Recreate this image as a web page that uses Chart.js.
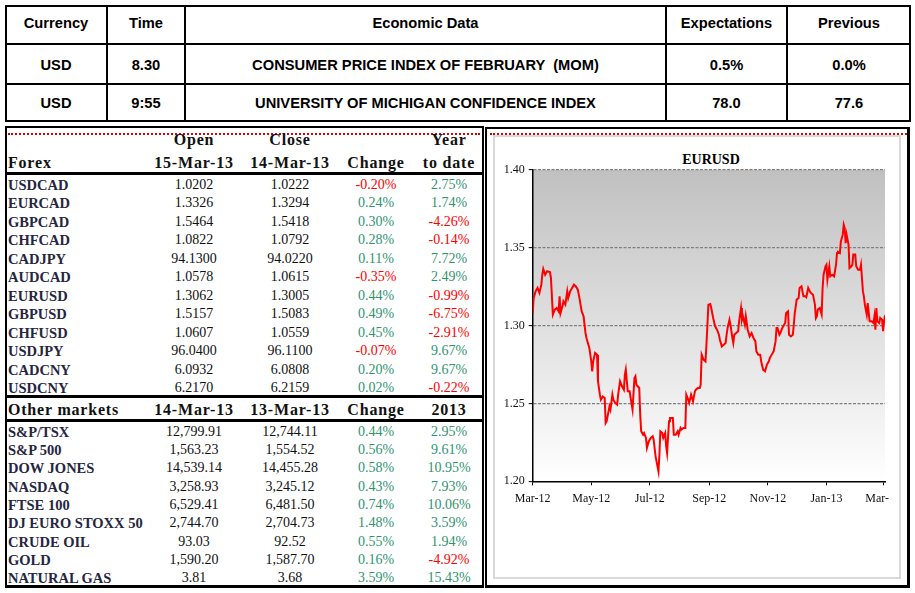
<!DOCTYPE html>
<html><head><meta charset="utf-8">
<script src="https://cdn.jsdelivr.net/npm/chart.js@4.4.1/dist/chart.umd.min.js"></script>
<style>
html,body{margin:0;padding:0;background:#fff;width:915px;height:593px;overflow:hidden;}
#root{position:absolute;left:0;top:0;width:915px;height:593px;}
.abs{position:absolute;white-space:pre;}
.tp{font-family:"Liberation Sans",Arial,sans-serif;font-weight:bold;font-size:14.7px;color:#000;}
.hd{font-family:"Liberation Serif","Times New Roman",serif;font-weight:bold;font-size:16px;letter-spacing:0.8px;color:#111;}
.nm{font-family:"Liberation Serif","Times New Roman",serif;font-weight:bold;font-size:14.5px;color:#262640;}
.nu{font-family:"Liberation Serif","Times New Roman",serif;font-size:14px;color:#111;}
.ttl{font-family:"Liberation Serif","Times New Roman",serif;font-weight:bold;font-size:14px;color:#000;}
</style></head><body>
<div id="root"></div>
<canvas id="c" width="393" height="438" style="position:absolute;left:496px;top:138px;"></canvas>
<script>
// ---------- Economic calendar ----------
const topHeaders = ['Currency','Time','Economic Data','Expectations','Previous'];
const evCurrency = ['USD','USD'];
const evTime = ['8.30','9:55'];
const evData = ['CONSUMER PRICE INDEX OF FEBRUARY  (MOM)','UNIVERSITY OF MICHIGAN CONFIDENCE INDEX'];
const evExpect = ['0.5%','78.0'];
const evPrev = ['0.0%','77.6'];

// ---------- Forex table ----------
const fxHead1 = ['','Open','Close','','Year'];
const fxHead2 = ['Forex','15-Mar-13','14-Mar-13','Change','to date'];
const fxNames = ['USDCAD','EURCAD','GBPCAD','CHFCAD','CADJPY','AUDCAD','EURUSD','GBPUSD','CHFUSD','USDJPY','CADCNY','USDCNY'];
const fxOpen = ['1.0202','1.3326','1.5464','1.0822','94.1300','1.0578','1.3062','1.5157','1.0607','96.0400','6.0932','6.2170'];
const fxClose = ['1.0222','1.3294','1.5418','1.0792','94.0220','1.0615','1.3005','1.5083','1.0559','96.1100','6.0808','6.2159'];
const fxChange = ['-0.20%','0.24%','0.30%','0.28%','0.11%','-0.35%','0.44%','0.49%','0.45%','-0.07%','0.20%','0.02%'];
const fxYtd = ['2.75%','1.74%','-4.26%','-0.14%','7.72%','2.49%','-0.99%','-6.75%','-2.91%','9.67%','9.67%','-0.22%'];

// ---------- Other markets ----------
const omHead = ['Other markets','14-Mar-13','13-Mar-13','Change','2013'];
const omNames = ['S&P/TSX','S&P 500','DOW JONES','NASDAQ','FTSE 100','DJ EURO STOXX 50','CRUDE OIL','GOLD','NATURAL GAS'];
const omLast = ['12,799.91','1,563.23','14,539.14','3,258.93','6,529.41','2,744.70','93.03','1,590.20','3.81'];
const omPrev = ['12,744.11','1,554.52','14,455.28','3,245.12','6,481.50','2,704.73','92.52','1,587.70','3.68'];
const omChange = ['0.44%','0.56%','0.58%','0.43%','0.74%','1.48%','0.55%','0.16%','3.59%'];
const omYtd = ['2.95%','9.61%','10.95%','7.93%','10.06%','3.59%','1.94%','-4.92%','15.43%'];

// ---------- EURUSD chart (days since 1-Mar-2012, rate) ----------
const chartTitle = 'EURUSD';
const dayOffsets = [
 0,1,3,5,7,9,10,11,13,15,
 18,19,21,23,25,27,28,29,31,32,
 34,36,37,39,41,43,45,47,49,51,
 53,55,56,59,61,62,63,65,67,68,
 70,71,73,75,76,77,79,80,81,83,
 84,86,88,89,91,93,95,96,97,99,
 101,102,104,106,107,108,111,112,113,115,
 116,118,119,121,123,125,126,128,129,131,
 132,133,135,136,138,139,140,142,143,146,
 147,149,151,152,154,155,157,159,160,162,
 163,165,166,167,169,170,172,174,175,176,
 178,180,181,182,183,185,186,188,190,192,
 194,195,197,199,201,202,203,205,206,208,
 209,210,212,214,215,217,218,219,221,222,
 224,225,226,228,230,232,233,235,237,238,
 240,242,243,244,246,247,249,251,253,254,
 255,257,258,260,263,264,266,267,269,271,
 272,273,275,277,278,280,282,284,285,287,
 289,290,292,294,295,296,297,299,301,302,
 303,305,306,307,309,310,312,314,316,317,
 318,320,321,323,324,325,326,327,329,330,
 332,333,334,336,337,339,341,342,344,345,
 346,348,349,351,353,355,356,357,358,359,
 361,362,364,365,366,367];
const eurusd = [
 1.3080,1.3176,1.3219,1.3241,1.3209,1.3262,1.3326,1.3363,1.3326,1.3348,
 1.3343,1.3305,1.3070,1.3102,1.3112,1.3091,1.3187,1.3080,1.3123,1.3155,
 1.3134,1.3219,1.3176,1.3219,1.3241,1.3262,1.3251,1.3230,1.3166,1.3091,
 1.3059,1.2952,1.2920,1.2856,1.2770,1.2706,1.2770,1.2824,1.2813,1.2642,
 1.2556,1.2524,1.2545,1.2535,1.2374,1.2385,1.2449,1.2481,1.2460,1.2556,
 1.2524,1.2503,1.2492,1.2556,1.2642,1.2610,1.2588,1.2684,1.2717,1.2578,
 1.2578,1.2535,1.2460,1.2663,1.2674,1.2620,1.2599,1.2428,1.2321,1.2299,
 1.2310,1.2278,1.2214,1.2257,1.2278,1.2289,1.2267,1.2160,1.2128,1.2064,
 1.2171,1.2321,1.2310,1.2278,1.2310,1.2225,1.2182,1.2385,1.2406,1.2406,
 1.2299,1.2299,1.2321,1.2299,1.2342,1.2332,1.2342,1.2342,1.2556,1.2524,
 1.2503,1.2556,1.2535,1.2513,1.2578,1.2588,1.2599,1.2599,1.2620,1.2813,
 1.2781,1.2770,1.2877,1.3005,1.3134,1.3138,1.3112,1.3048,1.2995,1.2973,
 1.2941,1.2909,1.2866,1.2877,1.2888,1.2941,1.2984,1.3037,1.3005,1.2920,
 1.2888,1.2941,1.2952,1.2963,1.3027,1.3112,1.3037,1.3059,1.3005,1.3059,
 1.2973,1.2952,1.2930,1.2952,1.2920,1.2898,1.2834,1.2813,1.2813,1.2770,
 1.2717,1.2706,1.2706,1.2749,1.2770,1.2791,1.2813,1.2834,1.2898,1.2984,
 1.2984,1.2941,1.2952,1.2984,1.3016,1.3080,1.3091,1.2941,1.2930,1.2941,
 1.3005,1.3080,1.3166,1.3176,1.3241,1.3251,1.3187,1.3187,1.3181,1.3241,
 1.3215,1.3209,1.3198,1.3134,1.3048,1.3059,1.3102,1.3112,1.3070,1.3241,
 1.3326,1.3380,1.3390,1.3294,1.3380,1.3316,1.3326,1.3316,1.3390,1.3465,
 1.3472,1.3465,1.3540,1.3583,1.3647,1.3626,1.3529,1.3583,1.3519,1.3369,
 1.3380,1.3390,1.3455,1.3455,1.3380,1.3358,1.3358,1.3390,1.3219,1.3187,
 1.3134,1.3070,1.3144,1.3027,1.3027,1.3016,1.3059,1.2973,1.3112,1.3027,
 1.3016,1.3048,1.3037,1.2963,1.3027,1.3065];
const xTickDays = [0,61,122,184,245,306,365];
const xTickLabels = ['Mar-12','May-12','Jul-12','Sep-12','Nov-12','Jan-13','Mar-13'];
const yTickValues = [1.20,1.25,1.30,1.35,1.40];

// ---------- page layout ----------
const root = document.getElementById('root');
function box(x,y,w,h,style){const d=document.createElement('div');d.style.position='absolute';d.style.left=x+'px';d.style.top=y+'px';d.style.width=w+'px';d.style.height=h+'px';Object.assign(d.style,style||{});root.appendChild(d);return d;}
function txt(s,x,yc,cls,align,color){
  const d=document.createElement('div');d.className='abs '+cls;d.textContent=s;
  const h=20;d.style.top=(yc-h/2)+'px';d.style.height=h+'px';d.style.lineHeight=h+'px';
  if(align==='left'){d.style.left=x+'px';}else{d.style.left=(x-300)+'px';d.style.width='600px';d.style.textAlign='center';}
  if(color)d.style.color=color;root.appendChild(d);return d;}
const K='#000';
// top table
box(5,5,906,2,{background:K});box(5,120,906,2,{background:K});
box(5,5,2,117,{background:K});box(909,5,2,117,{background:K});
[106,184,665,786].forEach(x=>box(x,5,2,117,{background:K}));
box(5,43,906,2,{background:K});box(5,83,906,2,{background:K});
const topCols=[56,146,425.5,726.5,849];
topHeaders.forEach((h,i)=>txt(h,topCols[i],22.5,'tp'));
const evRows=[65,103];
for(let r=0;r<2;r++){
  [evCurrency[r],evTime[r],evData[r],evExpect[r],evPrev[r]].forEach((s,i)=>txt(s,topCols[i],evRows[r],'tp'));
}
// left panel
box(5,126,479,462,{border:'2px solid #000',borderBottomWidth:'3px',boxSizing:'border-box'});
box(8,133,472,0,{borderTop:'2px dotted #d40000'});
box(5,172,479,3,{background:K});
box(5,395,479,3,{background:K});
box(5,419,479,3,{background:K});
const lc=[8,194,290,376,449];
fxHead1.forEach((s,i)=>{if(s)txt(s,lc[i],140,'hd');});
fxHead2.forEach((s,i)=>txt(s,lc[i],162.5,'hd',i===0?'left':'c'));
const green='#2f9470', red='#ff0000';
const clr=s=>s.trim().startsWith('-')?red:green;
fxNames.forEach((n,r)=>{
  const y=185+r*18.48;
  txt(n,lc[0],y,'nm','left');
  txt(fxOpen[r],lc[1],y,'nu');txt(fxClose[r],lc[2],y,'nu');
  txt(fxChange[r],lc[3],y,'nu','c',clr(fxChange[r]));
  txt(fxYtd[r],lc[4],y,'nu','c',clr(fxYtd[r]));
});
omHead.forEach((s,i)=>txt(s,lc[i],409.5,'hd',i===0?'left':'c'));
omNames.forEach((n,r)=>{
  const y=431.7+r*18.33;
  txt(n,lc[0],y,'nm','left');
  txt(omLast[r],lc[1],y,'nu');txt(omPrev[r],lc[2],y,'nu');
  txt(omChange[r],lc[3],y,'nu','c',clr(omChange[r]));
  txt(omYtd[r],lc[4],y,'nu','c',clr(omYtd[r]));
});
// right panel
box(485,127,425,461,{borderStyle:'solid',borderColor:'#000',borderWidth:'2px 3px 3px 2px',boxSizing:'border-box'});
box(490,133,417,0,{borderTop:'2px dotted #d40000'});
box(493,135,408,444,{border:'2.5px solid #d9d9d9',boxSizing:'border-box'});
txt(chartTitle,711,160,'ttl');
document.body.appendChild(document.getElementById('c'));

// ---------- chart ----------
const bgPlugin={id:'bgGrad',beforeDraw(chart){const {ctx,chartArea:a}=chart;const g=ctx.createLinearGradient(0,a.top,0,a.bottom);g.addColorStop(0,'#c0c0c0');g.addColorStop(1,'#ffffff');ctx.save();ctx.fillStyle=g;ctx.fillRect(a.left,a.top,a.right-a.left,a.bottom-a.top);ctx.restore();}};
const axisFont={family:'"Liberation Serif","Times New Roman",serif',size:12};
new Chart(document.getElementById('c'),{
  type:'line',
  data:{datasets:[{data:dayOffsets.map((d,i)=>({x:d,y:eurusd[i]})),borderColor:'#ff0000',borderWidth:2,pointRadius:0,tension:0,fill:false}]},
  options:{
    responsive:false,animation:false,devicePixelRatio:1,
    layout:{padding:{left:0,right:4,top:31.7,bottom:0}},
    plugins:{legend:{display:false},tooltip:{enabled:false},title:{display:false}},
    scales:{
      x:{type:'linear',min:0,max:367,
        afterBuildTicks:s=>{s.ticks=xTickDays.map(v=>({value:v}));},
        afterFit:s=>{s.height=94.7;s.paddingLeft=0;s.paddingRight=0;},
        ticks:{callback:(v,i)=>xTickLabels[i],autoSkip:false,maxRotation:0,padding:6,font:axisFont,color:'#111'},
        grid:{display:true,drawOnChartArea:false,drawTicks:true,tickLength:4,tickColor:'#000',tickWidth:1},
        border:{display:true,color:'#000',width:1.5}},
      y:{min:1.2,max:1.4,
        afterBuildTicks:s=>{s.ticks=yTickValues.map(v=>({value:v}));},
        afterFit:s=>{s.width=36.7;s.paddingTop=0;s.paddingBottom=0;},
        ticks:{callback:v=>Number(v).toFixed(2),padding:4,font:axisFont,color:'#111'},
        grid:{color:c=>(c.tick&&Math.abs(c.tick.value-1.2)<1e-6)?'rgba(0,0,0,0)':'#7f7f7f',lineWidth:1.3,tickLength:4,tickColor:'#000',tickWidth:1,tickBorderDash:[]},
        border:{display:true,color:'#000',width:1.5,dash:[3,1.5]}}
    }
  },
  plugins:[bgPlugin]
});
</script>
</body></html>
